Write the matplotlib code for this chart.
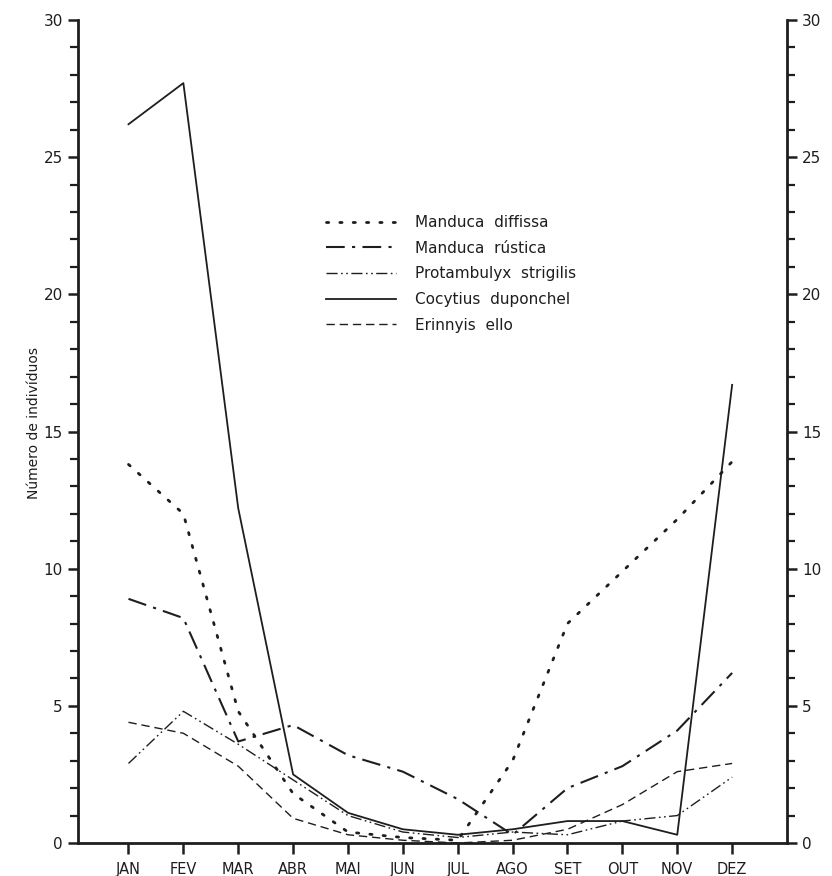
import matplotlib
matplotlib.use("Agg")
import matplotlib.pyplot as plt
from matplotlib.ticker import MultipleLocator

months = ["JAN", "FEV", "MAR", "ABR", "MAI", "JUN", "JUL", "AGO", "SET", "OUT", "NOV", "DEZ"]
manduca_diffissa = [13.8, 12.0, 4.8, 1.8, 0.4, 0.2, 0.1, 3.0, 8.0, 9.9, 11.8, 13.9]
manduca_rustica = [8.9, 8.2, 3.7, 4.3, 3.2, 2.6, 1.6, 0.3, 2.0, 2.8, 4.1, 6.2]
protambulyx = [2.9, 4.8, 3.6, 2.3, 1.0, 0.4, 0.2, 0.4, 0.3, 0.8, 1.0, 2.4]
cocytius = [26.2, 27.7, 12.2, 2.5, 1.1, 0.5, 0.3, 0.5, 0.8, 0.8, 0.3, 16.7]
erinnyis = [4.4, 4.0, 2.8, 0.9, 0.3, 0.1, 0.0, 0.1, 0.5, 1.4, 2.6, 2.9]

W, H = 832, 876
fig = plt.figure(figsize=(W / 100, H / 100), dpi=100)
ax = fig.add_axes([78 / W, 33 / H, 709 / W, 823 / H])

x = list(range(len(months)))
c = "#1e1e1e"
l1, = ax.plot(x, manduca_diffissa, color=c, lw=2.0, linestyle=(0, (0.8, 4.0)), dash_capstyle="round")
l2, = ax.plot(x, manduca_rustica, color=c, lw=1.5, linestyle=(0, (9, 3.5, 1.5, 3.5)))
l3, = ax.plot(x, protambulyx, color=c, lw=1.0, linestyle=(0, (8, 2.5, 1.2, 2.5, 1.2, 2.5)))
l4, = ax.plot(x, cocytius, color=c, lw=1.3, linestyle="-")
l5, = ax.plot(x, erinnyis, color=c, lw=1.0, linestyle=(0, (6, 3.5)))

ax.set_xlim(-0.92, 12.0)
ax.set_ylim(0, 30)
ax.spines["top"].set_visible(False)
for s in ["left", "right", "bottom"]:
    ax.spines[s].set_linewidth(2.0)
    ax.spines[s].set_color(c)

ax.set_xticks(x)
ax.set_xticklabels(months, fontsize=10.5, color=c)
ax.yaxis.set_major_locator(MultipleLocator(5))
ax.yaxis.set_minor_locator(MultipleLocator(1))
ax.tick_params(axis="x", direction="out", length=8, width=1.8, pad=6, colors=c)
ax.tick_params(axis="y", which="major", direction="out", length=7, width=1.8, labelsize=11, colors=c,
               left=True, right=True, labelleft=True, labelright=True, pad=4)
ax.tick_params(axis="y", which="minor", direction="out", length=6, width=1.6, left=True, right=True, colors=c)
ax.set_ylabel("Número de indivíduos", fontsize=10, color=c)
ax.yaxis.set_label_coords(-0.052, 0.51)

leg = fig.legend([l1, l2, l3, l4, l5],
                 ["Manduca  diffissa", "Manduca  rústica", "Protambulyx  strigilis",
                  "Cocytius  duponchel", "Erinnyis  ello"],
                 loc="upper left", bbox_to_anchor=(326 / W, 1 - 215 / H), frameon=False,
                 fontsize=11, handlelength=4.6, handletextpad=1.2, labelspacing=0.7,
                 borderpad=0, borderaxespad=0)
for t in leg.get_texts():
    t.set_color(c)

fig.savefig("out.png", dpi=100, facecolor="white")
